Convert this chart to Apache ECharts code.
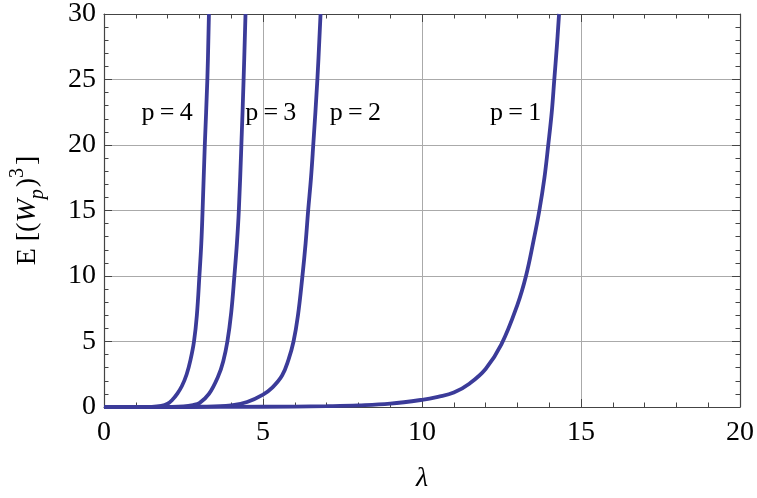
<!DOCTYPE html>
<html>
<head>
<meta charset="utf-8">
<script src="https://cdn.jsdelivr.net/npm/echarts@6/dist/echarts.min.js"></script>
<style>
  html, body { margin: 0; padding: 0; background: #fff; }
  #chart { width: 757px; height: 498px; }
</style>
</head>
<body>
<div id="chart"></div>
<script>
// Third moment E[(W_p)^3] against lambda, one curve per p
const p1 = [[0, 0], [2, 0.0], [4, 0.01], [6, 0.03], [7, 0.06], [8, 0.12], [9, 0.25], [10, 0.55],
  [10.5, 0.78], [11, 1.1], [11.5, 1.8], [12, 2.9], [12.5, 4.8], [13, 7.8], [13.27, 10],
  [13.5, 12.6], [13.69, 15], [13.85, 17.5], [13.97, 20], [14.08, 22.5], [14.16, 25], [14.24, 27.5], [14.31, 30]];
const p2 = [[0, 0], [2, 0.0], [3, 0.02], [4, 0.12], [4.5, 0.38], [5, 0.95], [5.3, 1.5], [5.6, 2.4],
  [5.8, 3.6], [5.96, 5], [6.1, 7], [6.24, 10], [6.34, 12.5], [6.42, 15], [6.51, 17.5], [6.58, 20], [6.71, 25], [6.81, 30]];
const p3 = [[0, 0], [1.5, 0.0], [2, 0.01], [2.5, 0.05], [2.8, 0.15], [3.0, 0.3], [3.3, 1.0], [3.6, 2.4],
  [3.75, 3.5], [3.88, 5], [4.0, 7.2], [4.1, 10], [4.18, 12.5], [4.24, 15], [4.32, 20], [4.39, 25], [4.45, 30]];
const p4 = [[0, 0], [1, 0.0], [1.5, 0.01], [1.8, 0.08], [2.0, 0.25], [2.15, 0.55], [2.3, 1.0], [2.45, 1.6],
  [2.6, 2.5], [2.72, 3.6], [2.83, 5], [2.92, 7], [3.0, 10], [3.06, 12.5], [3.1, 15], [3.17, 20], [3.25, 25], [3.30, 30]];

// Curve labels placed in data coordinates
const curveLabels = [
  { text: 'p\u2009=\u20094', at: [2.0, 22.4] },
  { text: 'p\u2009=\u20093', at: [5.26, 22.4] },
  { text: 'p\u2009=\u20092', at: [7.92, 22.4] },
  { text: 'p\u2009=\u20091', at: [12.96, 22.4] }
];

const xMin = 0, xMax = 20, xStep = 5;
const yMin = 0, yMax = 30, yStep = 5;

const serif = '"Liberation Serif", "Times New Roman", serif';
const curveColor = '#3b3b99';
const frameColor = '#444';
const gridColor = '#aaaaaa';

function frameAxis(extra) {
  return Object.assign({
    type: 'value',
    axisLine: { show: true, onZero: false, lineStyle: { color: frameColor, width: 1.2 } },
    axisTick: { show: true, inside: true, length: 8, lineStyle: { color: frameColor, width: 1 } },
    minorTick: { show: true, splitNumber: 5, length: 4.5, lineStyle: { color: frameColor, width: 1 } },
    splitLine: { show: false },
    axisLabel: { show: false }
  }, extra);
}

const chart = echarts.init(document.getElementById('chart'), null, { renderer: 'canvas' });

const curves = [p1, p2, p3, p4].map(d => ({
  type: 'line',
  data: d,
  smooth: 0.4,
  showSymbol: false,
  symbol: 'none',
  clip: true,
  lineStyle: { color: curveColor, width: 3.8 },
  z: 3
}));

chart.setOption({
  animation: false,
  backgroundColor: '#ffffff',
  grid: { left: 102, right: 16, top: 12.5, bottom: 90.7 },
  xAxis: [
    frameAxis({
      min: xMin, max: xMax, interval: xStep, position: 'bottom',
      splitLine: { show: true, lineStyle: { color: gridColor, width: 1 } },
      axisLabel: { show: true, color: '#000', fontFamily: serif, fontSize: 28, margin: 12 },
      name: 'λ',
      nameLocation: 'middle',
      nameGap: 58,
      nameTextStyle: { color: '#000', fontFamily: serif, fontSize: 28, fontStyle: 'italic' }
    }),
    frameAxis({ min: xMin, max: xMax, interval: xStep, position: 'top' })
  ],
  yAxis: [
    frameAxis({
      min: yMin, max: yMax, interval: yStep, position: 'left',
      splitLine: { show: true, lineStyle: { color: gridColor, width: 1 } },
      axisLabel: { show: true, color: '#000', fontFamily: serif, fontSize: 28, margin: 8 },
      name: '{t|E [(}{w|W}{s|p}{t|)}{u|3}{t|]}',
      nameLocation: 'middle',
      nameGap: 56,
      nameRotate: 90,
      nameTextStyle: {
        color: '#000', fontFamily: serif, fontSize: 28,
        rich: {
          t: { fontFamily: serif, fontSize: 28, color: '#000', lineHeight: 40, verticalAlign: 'middle' },
          w: { fontFamily: serif, fontSize: 28, fontStyle: 'italic', color: '#000', lineHeight: 40, verticalAlign: 'middle' },
          s: { fontFamily: serif, fontSize: 20, fontStyle: 'italic', color: '#000', lineHeight: 40, verticalAlign: 'bottom', padding: [0, 2, 0, 0] },
          u: { fontFamily: serif, fontSize: 20, color: '#000', lineHeight: 40, verticalAlign: 'top', padding: [0, 3, 0, 0] }
        }
      }
    }),
    frameAxis({ min: yMin, max: yMax, interval: yStep, position: 'right' })
  ],
  series: curves.concat([{
    type: 'scatter',
    symbolSize: 1,
    itemStyle: { opacity: 0 },
    silent: true,
    z: 4,
    data: curveLabels.map(l => ({ value: l.at, name: l.text })),
    label: {
      show: true,
      position: [0, 0],
      align: 'center',
      verticalAlign: 'middle',
      formatter: p => p.name,
      color: '#000',
      opacity: 1,
      fontFamily: serif,
      fontSize: 26
    }
  }])
});
</script>
</body>
</html>
